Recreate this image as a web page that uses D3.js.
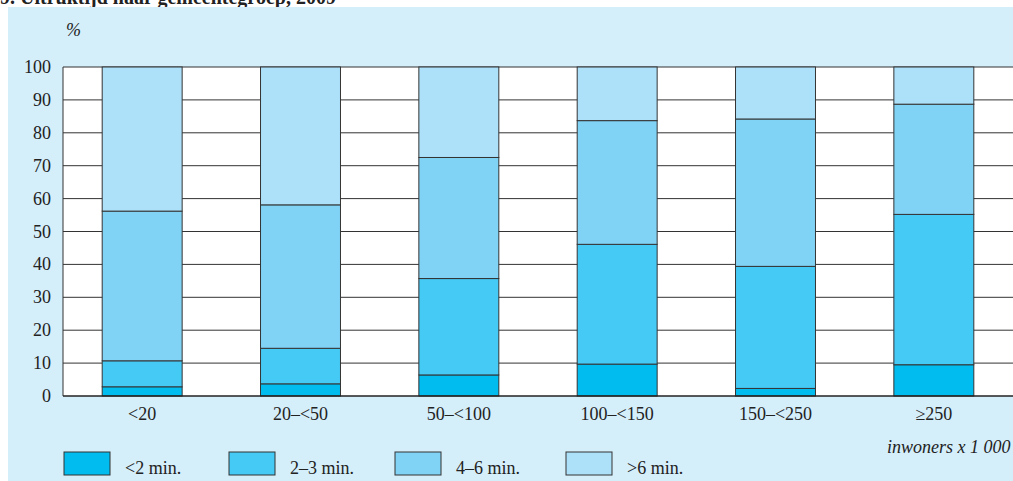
<!DOCTYPE html>
<html>
<head>
<meta charset="utf-8">
<script src="https://cdn.jsdelivr.net/npm/d3@7"></script>
<style>
  body { margin: 0; background: #fff; }
  text { font-family: "Liberation Serif", "DejaVu Serif", serif; fill: #222; }
</style>
</head>
<body>
<svg id="chart" width="1013" height="481"></svg>
<script>
var categories = ["<20", "20–<50", "50–<100", "100–<150", "150–<250", "≥250"];
var seriesNames = ["<2 min.", "2–3 min.", "4–6 min.", ">6 min."];
var seriesColors = ["#00bcef", "#45c9f5", "#80d3f5", "#ade1fa"];
var lt2 = [2.8, 3.7, 6.4, 9.7, 2.3, 9.5];
var m2to3 = [7.9, 10.8, 29.3, 36.4, 37.1, 45.7];
var m4to6 = [45.5, 43.6, 36.8, 37.6, 44.8, 33.5];
var gt6 = [43.8, 41.9, 27.5, 16.3, 15.8, 11.3];
var yTicks = [0, 10, 20, 30, 40, 50, 60, 70, 80, 90, 100];

var svg = d3.select("#chart");

// title, mostly cut off at the top (as in the source page)
svg.append("text")
    .attr("x", 0).attr("y", 4)
    .style("font-weight", "bold").style("font-size", "20px")
    .text("9. Uitruktijd naar gemeentegroep, 2009");

svg.append("rect")
    .attr("x", 8).attr("y", 7)
    .attr("width", 1005).attr("height", 474)
    .attr("fill", "#d4eefa");

var plot = { left: 63, right: 1013, top: 67, bottom: 396 };

var x = d3.scaleBand()
    .domain(categories)
    .range([plot.left, plot.right])
    .paddingInner(0.495)
    .paddingOuter(0.2475);

var y = d3.scaleLinear()
    .domain([0, 100])
    .range([plot.bottom, plot.top]);

svg.append("rect")
    .attr("x", plot.left).attr("y", plot.top)
    .attr("width", plot.right - plot.left).attr("height", plot.bottom - plot.top)
    .attr("fill", "#fff");

// grid lines
svg.append("g")
    .selectAll("line")
    .data(yTicks.filter(function (d) { return d > 0; }))
    .enter()
    .append("line")
    .attr("x1", plot.left).attr("x2", plot.right)
    .attr("y1", function (d) { return y(d); })
    .attr("y2", function (d) { return y(d); })
    .attr("stroke", "#333").attr("stroke-width", 1);

// stacked bars
var rows = categories.map(function (c, i) {
    return { cat: c, s0: lt2[i], s1: m2to3[i], s2: m4to6[i], s3: gt6[i] };
});
var stack = d3.stack().keys(["s0", "s1", "s2", "s3"]);
var layers = stack(rows);

svg.append("g")
    .selectAll("g")
    .data(layers)
    .enter()
    .append("g")
    .attr("fill", function (d, i) { return seriesColors[i]; })
    .selectAll("rect")
    .data(function (d) { return d; })
    .enter()
    .append("rect")
    .attr("x", function (d) { return x(d.data.cat); })
    .attr("width", x.bandwidth())
    .attr("y", function (d) { return y(d[1]); })
    .attr("height", function (d) { return y(d[0]) - y(d[1]); })
    .attr("stroke", "#333")
    .attr("stroke-width", 1);

// left and bottom axis lines
svg.append("line")
    .attr("x1", plot.left).attr("x2", plot.left)
    .attr("y1", plot.top).attr("y2", plot.bottom)
    .attr("stroke", "#333").attr("stroke-width", 1);
svg.append("line")
    .attr("x1", plot.left).attr("x2", plot.right)
    .attr("y1", plot.bottom).attr("y2", plot.bottom)
    .attr("stroke", "#222").attr("stroke-width", 1.6);

// y tick labels
svg.append("g")
    .selectAll("text")
    .data(yTicks)
    .enter()
    .append("text")
    .attr("x", 51)
    .attr("y", function (d) { return y(d) + 6; })
    .attr("text-anchor", "end")
    .style("font-size", "18px")
    .text(function (d) { return d; });

// category labels
svg.append("g")
    .selectAll("text")
    .data(categories)
    .enter()
    .append("text")
    .attr("x", function (d) { return x(d) + x.bandwidth() / 2; })
    .attr("y", 420)
    .attr("text-anchor", "middle")
    .style("font-size", "18px")
    .text(function (d) { return d; });

svg.append("text")
    .attr("x", 66).attr("y", 36)
    .style("font-style", "italic").style("font-size", "18px")
    .text("%");

svg.append("text")
    .attr("x", 887).attr("y", 453)
    .style("font-style", "italic").style("font-size", "18px")
    .text("inwoners x 1 000");

// legend
var legendX = [64, 229, 395, 566];
var legend = svg.append("g")
    .selectAll("g")
    .data(seriesNames)
    .enter()
    .append("g")
    .attr("transform", function (d, i) { return "translate(" + legendX[i] + ",452)"; });
legend.append("rect")
    .attr("width", 46).attr("height", 23)
    .attr("fill", function (d, i) { return seriesColors[i]; })
    .attr("stroke", "#333").attr("stroke-width", 1);
legend.append("text")
    .attr("x", 61).attr("y", 22)
    .style("font-size", "18px")
    .text(function (d) { return d; });
</script>
</body>
</html>
